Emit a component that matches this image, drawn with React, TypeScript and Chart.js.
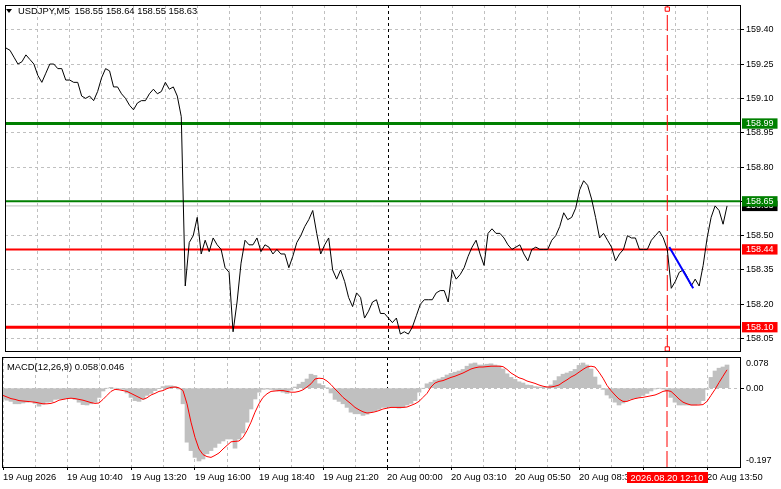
import { Chart, registerables } from "chart.js";
import React, { useEffect, useRef } from "react";

Chart.register(...registerables);

const FONT = '"Liberation Sans", Arial, sans-serif';
Chart.defaults.font.family = FONT;
Chart.defaults.font.size = 9;
Chart.defaults.color = "#000";

// USDJPY M5 closes, one value every 2 bars (10 min), from 19 Aug 08:00
const PRICE = [
  159.32, 159.31, 159.28, 159.25, 159.26, 159.29, 159.27, 159.25, 159.20, 159.17,
  159.21, 159.25, 159.25, 159.23, 159.23, 159.18, 159.18, 159.17, 159.17, 159.11,
  159.10, 159.11, 159.09, 159.13, 159.19, 159.23, 159.22, 159.15, 159.15, 159.12,
  159.10, 159.07, 159.05, 159.08, 159.09, 159.09, 159.12, 159.14, 159.12, 159.13,
  159.17, 159.14, 159.15, 159.11, 159.02, 158.28, 158.47, 158.50, 158.58, 158.42,
  158.48, 158.43, 158.49, 158.46, 158.44, 158.36, 158.34, 158.08, 158.21, 158.38,
  158.48, 158.46, 158.46, 158.49, 158.43, 158.46, 158.45, 158.42, 158.44, 158.42,
  158.42, 158.36, 158.41, 158.47, 158.50, 158.54, 158.57, 158.61, 158.51, 158.42,
  158.46, 158.49, 158.35, 158.31, 158.35, 158.30, 158.23, 158.19, 158.25, 158.23,
  158.14, 158.17, 158.21, 158.22, 158.16, 158.16, 158.14, 158.12, 158.14, 158.07,
  158.08, 158.07, 158.10, 158.15, 158.20, 158.22, 158.22, 158.22, 158.25, 158.26,
  158.26, 158.21, 158.35, 158.31, 158.33, 158.36, 158.41, 158.45, 158.48, 158.42,
  158.37, 158.51, 158.53, 158.51, 158.51, 158.49, 158.46, 158.44, 158.45, 158.46,
  158.42, 158.39, 158.44, 158.45, 158.44, 158.44, 158.44, 158.48, 158.50, 158.54,
  158.60, 158.57, 158.58, 158.62, 158.70, 158.74, 158.72, 158.66, 158.58, 158.49,
  158.51, 158.48, 158.45, 158.39, 158.42, 158.44, 158.50, 158.49, 158.49, 158.44,
  158.44, 158.44, 158.48, 158.50, 158.52, 158.49, 158.44, 158.27, 158.30, 158.34,
  158.35, 158.32, 158.28, 158.31, 158.28, 158.37, 158.49, 158.58, 158.63, 158.61,
  158.55, 158.63,
];

// MACD(12,26,9) main (histogram) and signal, same sampling
const MACD_HIST = [
  -0.027, -0.030, -0.033, -0.039, -0.039, -0.037, -0.035, -0.033, -0.038, -0.045,
  -0.040, -0.035, -0.034, -0.028, -0.027, -0.027, -0.025, -0.025, -0.028, -0.035,
  -0.041, -0.042, -0.039, -0.035, -0.023, -0.007, 0.000, 0.002, 0.000, -0.002,
  -0.003, -0.012, -0.023, -0.031, -0.033, -0.027, -0.018, -0.013, -0.006, -0.001,
  0.004, 0.006, 0.006, 0.004, -0.002, -0.039, -0.135, -0.156, -0.173, -0.182,
  -0.177, -0.164, -0.156, -0.148, -0.138, -0.132, -0.127, -0.127, -0.150, -0.127,
  -0.112, -0.085, -0.052, -0.027, -0.010, -0.003, -0.002, -0.003, -0.005, -0.007,
  -0.010, -0.013, -0.005, 0.003, 0.010, 0.015, 0.023, 0.035, 0.032, 0.011,
  0.007, 0.001, -0.012, -0.028, -0.033, -0.039, -0.048, -0.060, -0.064, -0.064,
  -0.068, -0.065, -0.060, -0.057, -0.053, -0.048, -0.048, -0.048, -0.048, -0.050,
  -0.048, -0.042, -0.038, -0.031, -0.010, 0.000, 0.011, 0.015, 0.020, 0.023,
  0.027, 0.033, 0.037, 0.040, 0.043, 0.047, 0.055, 0.061, 0.063, 0.058,
  0.058, 0.060, 0.061, 0.058, 0.056, 0.048, 0.036, 0.027, 0.022, 0.016,
  0.013, 0.008, 0.007, 0.004, 0.003, 0.003, 0.003, 0.008, 0.019, 0.029,
  0.035, 0.038, 0.042, 0.047, 0.057, 0.063, 0.058, 0.048, 0.028, 0.008,
  -0.003, -0.017, -0.025, -0.035, -0.042, -0.037, -0.031, -0.027, -0.025, -0.023,
  -0.018, -0.013, -0.007, -0.002, 0.000, -0.002, -0.007, -0.023, -0.035, -0.042,
  -0.042, -0.042, -0.042, -0.042, -0.040, -0.031, -0.003, 0.027, 0.043, 0.050,
  0.053, 0.058,
];

const MACD_SIGNAL = [
  -0.018, -0.022, -0.026, -0.028, -0.031, -0.032, -0.033, -0.034, -0.035, -0.037,
  -0.039, -0.039, -0.038, -0.035, -0.030, -0.028, -0.026, -0.025, -0.026, -0.028,
  -0.030, -0.033, -0.036, -0.038, -0.037, -0.028, -0.018, -0.008, -0.003, -0.004,
  -0.006, -0.008, -0.013, -0.018, -0.023, -0.028, -0.024, -0.017, -0.013, -0.008,
  -0.006, -0.001, 0.002, 0.003, 0.001, -0.006, -0.039, -0.085, -0.123, -0.152,
  -0.166, -0.171, -0.173, -0.168, -0.162, -0.152, -0.143, -0.134, -0.133, -0.132,
  -0.123, -0.106, -0.085, -0.060, -0.039, -0.023, -0.014, -0.008, -0.007, -0.006,
  -0.006, -0.008, -0.010, -0.010, -0.008, -0.004, 0.003, 0.011, 0.023, 0.025,
  0.024, 0.018, 0.009, -0.002, -0.012, -0.023, -0.031, -0.039, -0.048, -0.054,
  -0.059, -0.062, -0.061, -0.059, -0.056, -0.052, -0.050, -0.048, -0.048, -0.048,
  -0.048, -0.047, -0.043, -0.039, -0.033, -0.023, -0.013, 0.003, 0.013, 0.017,
  0.019, 0.023, 0.027, 0.030, 0.034, 0.038, 0.043, 0.048, 0.051, 0.053,
  0.053, 0.054, 0.055, 0.055, 0.055, 0.054, 0.047, 0.038, 0.032, 0.026,
  0.023, 0.018, 0.015, 0.012, 0.008, 0.005, 0.003, 0.003, 0.005, 0.008,
  0.015, 0.021, 0.028, 0.033, 0.040, 0.047, 0.053, 0.055, 0.053, 0.040,
  0.025, 0.007, -0.006, -0.017, -0.027, -0.033, -0.033, -0.029, -0.026, -0.024,
  -0.023, -0.021, -0.019, -0.017, -0.013, -0.008, -0.006, -0.008, -0.017, -0.027,
  -0.035, -0.039, -0.042, -0.042, -0.042, -0.041, -0.033, -0.018, -0.003, 0.014,
  0.030, 0.046,
];

const BARS_PER_SAMPLE = 2;
const SYMBOL = "USDJPY,M5";
const LAST_BAR_OHLC = [158.55, 158.64, 158.55, 158.63];
const MACD_PARAMS = [12, 26, 9];

const PRICE_TICKS = [159.4, 159.25, 159.1, 158.95, 158.8, 158.65, 158.5, 158.35, 158.2, 158.05];
const PRICE_MIN = 157.996;
const PRICE_MAX = 159.508;
const RESISTANCE = [158.99, 158.65];
const SUPPORT = [158.44, 158.1];
const TREND_BARS = [333, 345];
const TREND_PRICES = [158.45, 158.27];
const VLINE_BAR = 332;
const VLINE_LABEL = "2026.08.20 12:10";
const VLINE_ANCHORS = [159.49, 158.005];

const MACD_TICKS = [-0.197, 0, 0.078];
const MACD_TICK_LABELS = ["-0.197", "0.00", "0.078"];

const TIME_LABELS = [
  "19 Aug 2026", "19 Aug 10:40", "19 Aug 13:20", "19 Aug 16:00", "19 Aug 18:40", "19 Aug 21:20",
  "20 Aug 00:00", "20 Aug 03:10", "20 Aug 05:50", "20 Aug 08:30", "20 Aug 11:10", "20 Aug 13:50",
];
const LABEL_EVERY = 32; // bars between time labels
const GRID_EVERY = 16;
const DAY_BREAK_BAR = 192;
const X_MIN = -0.5;
const X_MAX = 368.5;

const GREEN = "#008000";
const RED = "#ff0000";
const GRID_GREY = "#c0c0c0";
const TEXT_SIZE = 9.4;

const LAST_PRICE = PRICE[PRICE.length - 1];
const MACD_MIN = MACD_TICKS[0];
const MACD_MAX = MACD_TICKS[MACD_TICKS.length - 1];

const series = (values: number[]) => values.map((v, i) => ({ x: i * BARS_PER_SAMPLE, y: v }));
const hline = (v: number) => [{ x: X_MIN, y: v }, { x: X_MAX, y: v }];

const gridBars: number[] = [];
for (let b = 0; b <= (TIME_LABELS.length - 1) * LABEL_EVERY; b += GRID_EVERY) gridBars.push(b);

const framePlugin = {
  id: "frame",
  afterDraw(chart: any) {
    const { ctx, chartArea: a } = chart;
    ctx.save();
    ctx.strokeStyle = "#000";
    ctx.lineWidth = 1;
    ctx.strokeRect(a.left + 0.5, a.top + 0.5, a.right - a.left, a.bottom - a.top);
    ctx.restore();
  },
};

const timeTagPlugin = {
  id: "timeTag",
  afterDraw(chart: any) {
    const { ctx, chartArea } = chart;
    const x = chart.scales.x.getPixelForValue(VLINE_BAR);
    ctx.save();
    ctx.font = `${TEXT_SIZE}px ${FONT}`;
    const w = Math.round(ctx.measureText(VLINE_LABEL).width + 8);
    const top = Math.round(chartArea.bottom + 5);
    ctx.fillStyle = RED;
    ctx.fillRect(Math.round(x - w / 2), top, w, 11);
    ctx.fillStyle = "#fff";
    ctx.textAlign = "center";
    ctx.textBaseline = "middle";
    ctx.fillText(VLINE_LABEL, x, top + 6);
    ctx.restore();
  },
};

const xScale = (showLabels: boolean) => ({
  type: "linear",
  min: X_MIN,
  max: X_MAX,
  offset: false,
  afterBuildTicks: (s: any) => {
    s.ticks = gridBars.map((v) => ({ value: v }));
  },
  afterFit: (s: any) => {
    s.height = showLabels ? 22 : 0;
    s.paddingLeft = 0;
    s.paddingRight = 0;
  },
  border: { display: false, dash: [3, 3] },
  grid: {
    offset: false,
    color: (c: any) => (c.tick && c.tick.value === DAY_BREAK_BAR ? "#000" : GRID_GREY),
    drawTicks: showLabels,
    tickLength: 3,
    tickColor: (c: any) => (c.tick && c.tick.value % LABEL_EVERY === 0 ? "#000" : "transparent"),
  },
  ticks: {
    display: showLabels,
    autoSkip: false,
    maxRotation: 0,
    minRotation: 0,
    align: "start",
    padding: 2,
    color: "#000",
    font: { size: TEXT_SIZE },
    callback: (v: number) => (v % LABEL_EVERY === 0 ? TIME_LABELS[v / LABEL_EVERY] ?? "" : ""),
  },
});

const tagColor = (index: number, v: number) => {
  if (index < PRICE_TICKS.length) return null;
  if (RESISTANCE.includes(v)) return GREEN;
  if (SUPPORT.includes(v)) return RED;
  return "#000";
};

const levelWidths = [3, 2, 2, 3];

const App: React.FC = () => {
  const priceRef = useRef<HTMLCanvasElement | null>(null);
  const macdRef = useRef<HTMLCanvasElement | null>(null);

  useEffect(() => {
    if (!priceRef.current || !macdRef.current) return;

    const levels = [...RESISTANCE, ...SUPPORT];
    const priceChart = new Chart(priceRef.current, {
      type: "line",
      data: {
        datasets: [
          {
            data: series(PRICE),
            borderColor: "#000",
            borderWidth: 1,
            pointRadius: 0,
            order: 1,
          },
          ...levels.map((v, i) => ({
            data: hline(v),
            borderColor: i < RESISTANCE.length ? GREEN : RED,
            borderWidth: levelWidths[i],
            pointRadius: 0,
            order: 4,
          })),
          {
            data: hline(LAST_PRICE),
            borderColor: GRID_GREY,
            borderWidth: 1,
            pointRadius: 0,
            order: 5,
          },
          {
            data: [{ x: VLINE_BAR, y: PRICE_MIN }, { x: VLINE_BAR, y: PRICE_MAX }],
            borderColor: RED,
            borderWidth: 1,
            borderDash: [16, 4],
            pointRadius: 0,
            order: 2,
          },
          {
            data: TREND_BARS.map((b, i) => ({ x: b, y: TREND_PRICES[i] })),
            borderColor: "#0000ff",
            borderWidth: 2,
            pointRadius: 0,
            order: 0,
          },
          {
            data: VLINE_ANCHORS.map((v) => ({ x: VLINE_BAR, y: v })),
            showLine: false,
            pointStyle: "rect",
            pointRadius: 3,
            pointBorderWidth: 1,
            pointBorderColor: RED,
            pointBackgroundColor: "#fff",
            order: 0,
          },
        ],
      },
      options: {
        animation: false,
        responsive: false,
        events: [],
        layout: { padding: { left: 2, top: 2, right: 0, bottom: 1 } },
        plugins: { legend: { display: false }, tooltip: { enabled: false } },
        scales: {
          x: xScale(false) as any,
          y: {
            type: "linear",
            position: "right",
            min: PRICE_MIN,
            max: PRICE_MAX,
            afterBuildTicks: (s: any) => {
              s.ticks = [...PRICE_TICKS, LAST_PRICE, ...[...SUPPORT].reverse(), ...[...RESISTANCE].reverse()].map(
                (v) => ({ value: v })
              );
            },
            afterFit: (s: any) => {
              s.width = 41;
              s.paddingTop = 0;
              s.paddingBottom = 0;
            },
            border: { display: false, dash: [3, 3] },
            grid: {
              color: (c: any) => (c.index < PRICE_TICKS.length ? GRID_GREY : "transparent"),
              tickLength: 4,
              tickColor: (c: any) => (c.index < PRICE_TICKS.length ? "#000" : "transparent"),
            },
            ticks: {
              autoSkip: false,
              padding: 2,
              font: { size: 9, lineHeight: 1.15 },
              color: (c: any) => (tagColor(c.index, c.tick.value) ? "#fff" : "#000"),
              showLabelBackdrop: (c: any) => !!tagColor(c.index, c.tick.value),
              backdropColor: (c: any) => tagColor(c.index, c.tick.value) || "transparent",
              backdropPadding: { left: 4, right: 4, top: 0, bottom: 0 },
              callback: (v: number) => Number(v).toFixed(2),
            },
          } as any,
        },
      },
      plugins: [framePlugin],
    } as any);

    const macdChart = new Chart(macdRef.current, {
      type: "line",
      data: {
        datasets: [
          {
            type: "line",
            data: series(MACD_SIGNAL),
            borderColor: RED,
            borderWidth: 1,
            pointRadius: 0,
            order: 0,
          },
          {
            type: "line",
            data: [{ x: VLINE_BAR, y: MACD_MIN }, { x: VLINE_BAR, y: MACD_MAX }],
            borderColor: RED,
            borderWidth: 1,
            borderDash: [16, 4],
            pointRadius: 0,
            order: 1,
          },
          {
            type: "bar",
            data: series(MACD_HIST),
            backgroundColor: GRID_GREY,
            borderWidth: 0,
            barPercentage: 1,
            categoryPercentage: 1,
            order: 2,
          },
        ],
      },
      options: {
        animation: false,
        responsive: false,
        events: [],
        layout: { padding: { left: 2, top: 1, right: 0, bottom: 0 } },
        plugins: { legend: { display: false }, tooltip: { enabled: false } },
        scales: {
          x: xScale(true) as any,
          y: {
            type: "linear",
            position: "right",
            min: MACD_MIN,
            max: MACD_MAX,
            afterBuildTicks: (s: any) => {
              s.ticks = MACD_TICKS.map((v) => ({ value: v }));
            },
            afterFit: (s: any) => {
              s.width = 41;
              s.paddingTop = 0;
              s.paddingBottom = 0;
            },
            border: { display: false, dash: [3, 3] },
            grid: {
              color: (c: any) => (c.tick && c.tick.value === 0 ? GRID_GREY : "transparent"),
              tickLength: 4,
              tickColor: (c: any) => (c.tick && c.tick.value === 0 ? "#000" : "transparent"),
            },
            ticks: {
              autoSkip: false,
              padding: 2,
              font: { size: 9, lineHeight: 1.5 },
              callback: (v: number, i: number) => {
                const t = MACD_TICK_LABELS[i];
                if (v === MACD_MAX) return ["", t];
                if (v === MACD_MIN) return [t, ""];
                return t;
              },
            },
          } as any,
        },
      },
      plugins: [framePlugin, timeTagPlugin],
    } as any);

    return () => {
      priceChart.destroy();
      macdChart.destroy();
    };
  }, []);

  const macdLast = [MACD_HIST[MACD_HIST.length - 1], MACD_SIGNAL[MACD_SIGNAL.length - 1]];

  return (
    <div
      style={{
        position: "fixed",
        left: 0,
        top: 0,
        width: 781,
        height: 489,
        background: "#fff",
        overflow: "hidden",
        fontFamily: FONT,
      }}
    >
      <canvas ref={priceRef} width={781} height={356} style={{ position: "absolute", left: 0, top: 0 }} />
      <canvas ref={macdRef} width={781} height={133} style={{ position: "absolute", left: 0, top: 356 }} />
      <div
        style={{
          position: "absolute",
          left: 6,
          top: 9,
          width: 0,
          height: 0,
          borderLeft: "3px solid transparent",
          borderRight: "3px solid transparent",
          borderTop: "4px solid #000",
        }}
      />
      <div
        style={{
          position: "absolute",
          left: 18,
          top: 5,
          fontSize: TEXT_SIZE,
          lineHeight: "12px",
          whiteSpace: "pre",
          color: "#000",
        }}
      >
        {`${SYMBOL}  ${LAST_BAR_OHLC.map((v) => v.toFixed(2)).join(" ")}`}
      </div>
      <div
        style={{
          position: "absolute",
          left: 7,
          top: 361,
          fontSize: TEXT_SIZE,
          lineHeight: "12px",
          whiteSpace: "pre",
          color: "#000",
        }}
      >
        {`MACD(${MACD_PARAMS.join(",")}) ${macdLast.map((v) => v.toFixed(3)).join(" ")}`}
      </div>
    </div>
  );
};

export default App;
